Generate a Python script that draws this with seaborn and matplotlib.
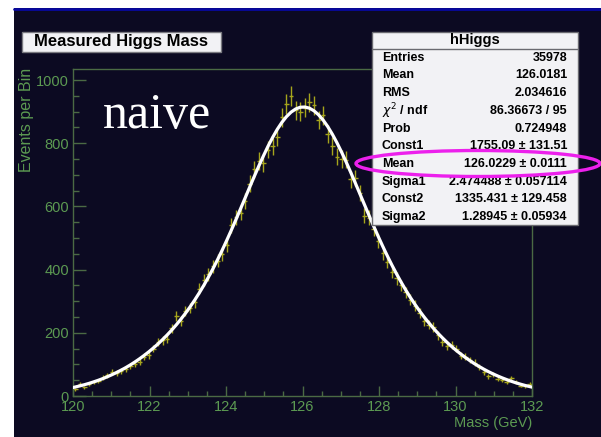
import numpy as np
import matplotlib
matplotlib.use("Agg")
import matplotlib.pyplot as plt
import seaborn as sns
import pandas as pd
from matplotlib.patches import Rectangle, Ellipse
from matplotlib.lines import Line2D
from matplotlib.ticker import MultipleLocator

# ---------------- data ----------------
x_min, x_max, n_bins = 120.0, 132.0, 100

counts = [22, 37, 27, 38, 43, 47, 58, 66, 77, 73, 79, 84, 96, 101, 109, 124, 130, 150, 172, 176,
          181, 214, 252, 238, 270, 278, 296, 340, 366, 385, 410,
          428, 448, 478, 540, 566, 580, 618, 672, 718, 744, 736, 780, 790, 820, 882, 924, 950, 905,
          899, 912, 929, 920, 874, 889, 830, 792, 758, 750, 748, 686, 690, 642, 570, 564, 528, 490,
          452, 425, 392, 372, 350, 328, 305, 286, 262, 238, 226, 218, 192, 172, 158, 160, 150, 128,
          125, 114, 106, 93, 76, 62, 69, 55, 52, 44, 56, 45, 33, 32, 37]

fit_curve = [26.8,
             28.5, 32.0, 35.8, 40.0, 44.7, 49.7, 55.1, 61.1, 67.5, 74.5, 81.9, 89.9, 98.5, 107.8,
             117.8, 128.4, 139.7, 151.8, 164.6, 178.4, 193.0, 208.6, 225.2, 243.0, 261.8, 281.9,
             303.3, 326.1, 350.3, 376.0, 403.1, 431.7, 461.6, 492.8, 525.1, 558.4, 592.4, 626.7,
             661.3, 695.3, 728.5, 760.4, 790.8, 818.6, 843.9, 865.8, 884.1, 898.4, 908.4, 913.9,
             914.7, 911.1, 902.7, 890.0, 873.3, 852.7, 828.6, 801.7, 772.3, 741.0, 708.1, 674.3,
             640.0, 605.6, 571.4, 537.8, 505.0, 473.3, 442.9, 413.8, 386.2, 360.0, 335.2, 311.9,
             290.0, 269.4, 250.0, 231.9, 214.8, 198.8, 183.9, 169.7, 156.6, 144.2, 132.6, 121.8,
             111.6, 102.0, 93.2, 84.9, 77.2, 70.1, 63.5, 57.4, 51.8, 46.6, 41.7, 37.4, 33.4, 29.8,
             28.1]

x_ticks = [120, 122, 124, 126, 128, 130, 132]
y_ticks = [0, 200, 400, 600, 800, 1000]

title_text = "Measured Higgs Mass"
hist_name = "hHiggs"
stats_labels = ["Entries", "Mean", "RMS", r"$\chi^2$ / ndf", "Prob", "Const1", "Mean",
                "Sigma1", "Const2", "Sigma2"]
stats_values = ["35978", "126.0181", "2.034616", "86.36673 / 95", "0.724948",
                "1755.09 ± 131.51", "126.0229 ± 0.0111", "2.474488 ± 0.057114",
                "1335.431 ± 129.458", "1.28945 ± 0.05934"]

# ---------------- style ----------------
sns.set_theme(style="ticks")
plt.rcParams['font.family'] = ['Liberation Sans', 'DejaVu Sans']
plt.rcParams['mathtext.fontset'] = 'dejavusans'

W, H = 601, 437
fig = plt.figure(figsize=(W / 100, H / 100), dpi=100, facecolor='white')


def fx(px):
    return px / W


def fy(py):
    return 1 - py / H


bg = '#0c0a22'
frame = '#4b6a44'
green = '#5c9a52'

fig.add_artist(Rectangle((fx(14), 0), 1 - fx(14), fy(8), transform=fig.transFigure,
                         facecolor=bg, edgecolor='none', zorder=-2))
fig.add_artist(Line2D([fx(14), 1], [fy(9), fy(9)], transform=fig.transFigure,
                      color='#0808a0', lw=2.0, zorder=-1))

ax = fig.add_axes([fx(73), fy(396), fx(532) - fx(73), fy(69) - fy(396)])
ax.set_facecolor(bg)

bw = (x_max - x_min) / n_bins
centers = np.linspace(x_min + bw / 2, x_max - bw / 2, n_bins)
df = pd.DataFrame({'mass': centers, 'events': counts})
fit_mass = np.concatenate([[x_min], centers, [x_max]])
df_fit = pd.DataFrame({'mass': fit_mass, 'fit': fit_curve})

ax.errorbar(df['mass'], df['events'], yerr=np.sqrt(df['events']), xerr=bw / 2,
            fmt='none', ecolor='#a6a51c', elinewidth=1.0, capsize=0, zorder=2)
sns.lineplot(data=df_fit, x='mass', y='fit', ax=ax, color='white', linewidth=2.3,
             zorder=3, sort=False)

ax.set_xlim(x_min, x_max)
ax.set_ylim(0, 1035)
ax.set_xlabel('')
ax.set_ylabel('')
ax.set_xticks(x_ticks)
ax.set_yticks(y_ticks)
ax.xaxis.set_minor_locator(MultipleLocator(0.5))
ax.yaxis.set_minor_locator(MultipleLocator(50))
for s in ax.spines.values():
    s.set_color(frame)
    s.set_linewidth(1.0)
    s.set_visible(True)
ax.tick_params(which='both', direction='in', color=frame, width=1.0,
               top=False, right=False, bottom=True, left=True)
ax.tick_params(axis='both', which='major', labelsize=10.5, labelcolor=green)
ax.tick_params(axis='y', which='major', length=9.4, pad=3)
ax.tick_params(axis='y', which='minor', length=4.3)
ax.tick_params(axis='x', which='major', length=7.2, pad=3)
ax.tick_params(axis='x', which='minor', length=3.6)
ax.grid(False)

# axis titles
fig.text(fx(27), fy(68), 'Events per Bin', rotation=90, ha='center', va='top',
         fontsize=11.5, color=green)
fig.text(fx(532), fy(423), 'Mass (GeV)', ha='right', va='center', fontsize=10.5, color=green)

# naive label
fig.text(fx(103), fy(128), 'naive', ha='left', va='baseline', color='white',
         fontsize=36, family=['Liberation Serif', 'DejaVu Serif'])

# title box
fig.add_artist(Rectangle((fx(21.5), fy(51.5)), fx(221) - fx(21.5), fy(31.5) - fy(51.5),
                         transform=fig.transFigure, facecolor='#f2f2f5', edgecolor='#7a7a80',
                         lw=1.0, zorder=5))
fig.text(fx(121), fy(41.5), title_text, ha='center', va='center', fontsize=12,
         fontweight='bold', color='black', zorder=6)

# stats box
fig.add_artist(Rectangle((fx(372), fy(225)), fx(578) - fx(372), fy(32) - fy(225),
                         transform=fig.transFigure, facecolor='#f2f2f5', edgecolor='#6a6a70',
                         lw=1.0, zorder=5))
fig.add_artist(Line2D([fx(372), fx(578)], [fy(48.5), fy(48.5)], transform=fig.transFigure,
                      color='#6a6a70', lw=1.0, zorder=6))
fig.text(fx(475), fy(40), hist_name, ha='center', va='center', fontsize=10.5,
         fontweight='bold', color='black', zorder=6)
row0, dy = 57.7, 17.7
for k, (lab, val) in enumerate(zip(stats_labels, stats_values)):
    yy = fy(row0 + k * dy)
    fig.text(fx(382), yy, lab, ha='left', va='center', fontsize=9, fontweight='bold',
             color='black', zorder=6)
    fig.text(fx(567), yy, val, ha='right', va='center', fontsize=9, fontweight='bold',
             color='black', zorder=6)

# highlight ellipse
fig.add_artist(Ellipse((fx(478), fy(163.5)), 244 / W, 26 / H, transform=fig.transFigure,
                       fill=False, edgecolor='#ec20ec', lw=2.4, zorder=7))

fig.savefig('out.png', dpi=100, facecolor='white')
